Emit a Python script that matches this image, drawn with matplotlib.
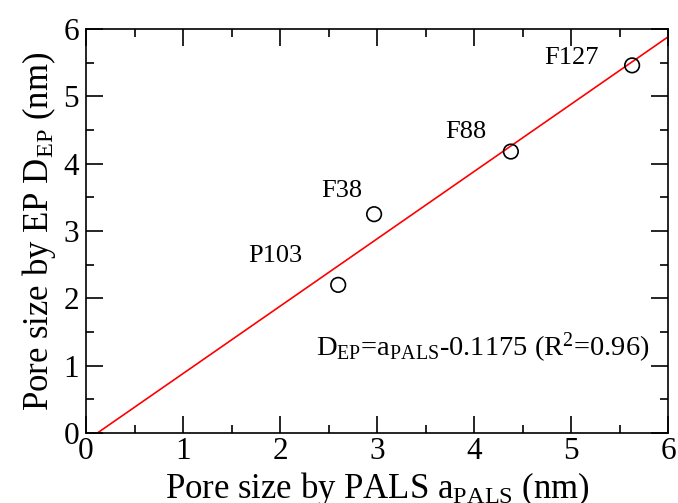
import matplotlib
matplotlib.use("Agg")
import matplotlib.pyplot as plt
import numpy as np
from matplotlib.ticker import MultipleLocator

plt.rcParams['font.family'] = ['Liberation Serif']
plt.rcParams['mathtext.fontset'] = 'custom'
plt.rcParams['mathtext.rm'] = 'Liberation Serif'
plt.rcParams['mathtext.it'] = 'Liberation Serif:italic'

# Pore sizes of the copolymer templates (nm)
samples = ["P103", "F38", "F88", "F127"]
a_pals = [2.60, 2.97, 4.38, 5.63]
d_ep = [2.20, 3.25, 4.18, 5.46]

# Where each sample name is written (data coordinates)
label_x = [1.95, 2.64, 3.92, 5.00]
label_y = [2.63, 3.59, 4.47, 5.57]

# Linear fit D_EP = a_PALS + intercept
slope = 1.0
intercept = -0.1175

fig = plt.figure(figsize=(6.78, 5.03), dpi=100)
ax = fig.add_axes([86/678, 1 - 433/503, (668-86)/678, (433-29)/503])

xf = np.array([-intercept / slope, 6.0])
ax.plot(xf, slope * xf + intercept, color="red", lw=1.2, zorder=2)

ax.scatter(a_pals, d_ep, s=110, facecolors="none", edgecolors="black",
           linewidths=1.2, zorder=3)

for name, lx, ly in zip(samples, label_x, label_y):
    ax.text(lx, ly, name, fontsize=19, ha="center", va="center")

ax.text(4.09, 1.26,
        r"$\mathregular{D_{EP}}$=a$\mathregular{_{PALS}}$-0.1175 (R$\mathregular{^{2}}$=0.96)",
        fontsize=20.5, ha="center", va="center")

ax.set_xlim(0, 6)
ax.set_ylim(0, 6)
ax.xaxis.set_major_locator(MultipleLocator(1))
ax.xaxis.set_minor_locator(MultipleLocator(0.5))
ax.yaxis.set_major_locator(MultipleLocator(1))
ax.yaxis.set_minor_locator(MultipleLocator(0.5))
ax.tick_params(which="both", direction="in", top=True, right=True,
               labelsize=22.5, width=1.2)
ax.tick_params(axis="x", pad=3)
ax.tick_params(axis="y", pad=5)
ax.tick_params(which="major", length=12)
ax.tick_params(which="minor", length=6)
for sp in ax.spines.values():
    sp.set_linewidth(1.2)

ax.set_xlabel(r"Pore size by PALS a$\mathregular{_{PALS}}$ (nm)", fontsize=25, labelpad=3)
ax.set_ylabel(r"Pore size by EP D$\mathregular{_{EP}}$ (nm)", fontsize=25, labelpad=4)

fig.savefig("out.png", dpi=100)
